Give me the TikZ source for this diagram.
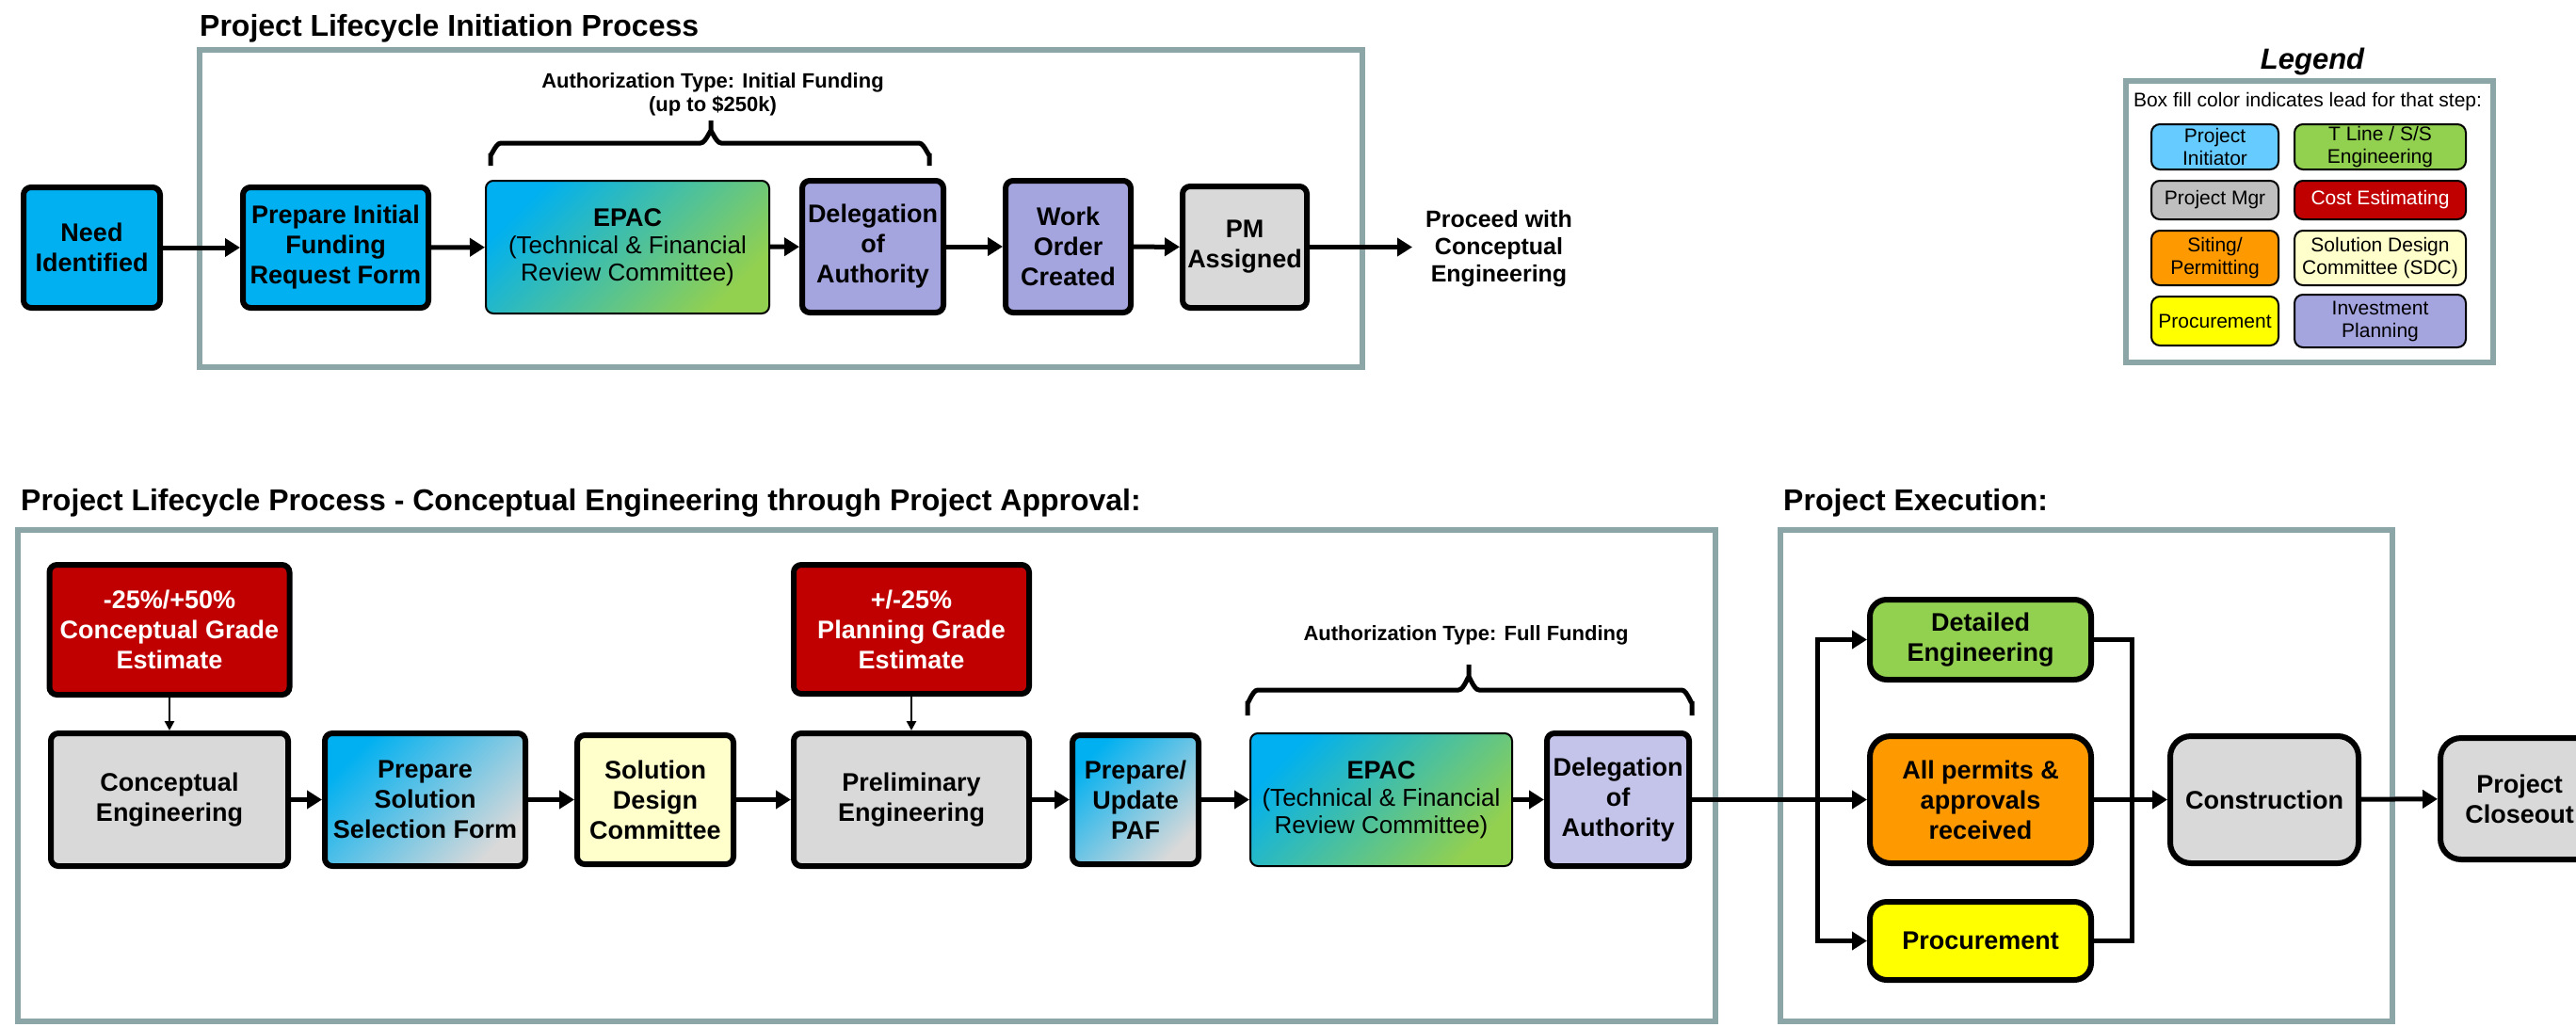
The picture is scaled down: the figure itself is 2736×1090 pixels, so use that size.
\documentclass[tikz,border=0pt]{standalone}
\usepackage{fontspec}
\setmainfont{Liberation Sans}
\usetikzlibrary{arrows.meta}
\definecolor{cblue}{HTML}{00B0F0}
\definecolor{lblue}{HTML}{66CCFF}
\definecolor{lav}{HTML}{A4A4DE}
\definecolor{lavlight}{HTML}{C4C4EA}
\definecolor{cgray}{HTML}{D9D9D9}
\definecolor{lgray}{HTML}{BFBFBF}
\definecolor{cred}{HTML}{C00000}
\definecolor{cgreen}{HTML}{92D050}
\definecolor{corange}{HTML}{FF9900}
\definecolor{cyellow}{HTML}{FFFF00}
\definecolor{lyellow}{HTML}{FFFFCC}
\definecolor{framec}{HTML}{8CA5A7}
\tikzset{
  box/.style={draw=black, line width=6pt, rounded corners=8pt, align=center, inner sep=1pt,
    font=\bfseries\fontsize{27}{32}\selectfont},
  rbox/.style={box, rounded corners=18pt},
  thinbox/.style={draw=black, line width=2pt, rounded corners=8pt, align=center, inner sep=1pt,
    font=\fontsize{26}{29}\selectfont},
  lbox/.style={draw=black, line width=2pt, rounded corners=9pt, align=center, inner sep=1pt,
    font=\fontsize{21}{24}\selectfont},
  frame/.style={draw=framec, line width=6pt},
  arr/.style={line width=5pt, -{Triangle[length=16pt,width=19pt]}},
  thinarr/.style={line width=2.5pt, -{Triangle[length=10pt,width=10pt]}},
  heading/.style={font=\bfseries\fontsize{32}{38}\selectfont, anchor=base west, inner sep=0pt},
  bracepath/.style={line width=5pt},
  authtext/.style={font=\bfseries\fontsize{22}{25}\selectfont, align=center, inner sep=0pt},
  gradblue/.style={top color=cblue, bottom color=cgreen, shading angle=45},
  gradgray/.style={top color=cblue, bottom color=cgray, shading angle=45},
}
\begin{document}
\begin{tikzpicture}[x=1pt,y=-1pt]
\useasboundingbox (0,0) rectangle (2736,1090);

% ---------- top section ----------
\node[heading] (t1) at (212,38) {Project Lifecycle Initiation Process};
\draw[frame] (212,53) rectangle (1447,390);

\node[box, fill=cblue, minimum width=145pt, minimum height=128pt] (need) at (97.5,263) {Need\\Identified};
\node[box, fill=cblue, minimum width=197pt, minimum height=128pt] (pif) at (356.5,263) {Prepare Initial\\Funding\\Request Form};
\node[thinbox, gradblue, minimum width=301pt, minimum height=141pt] (epac1) at (666.5,262.5)
  {{\bfseries\fontsize{27}{29}\selectfont EPAC}\\(Technical \& Financial\\Review Committee)};
\node[box, fill=lav, minimum width=150pt, minimum height=140pt] (del1) at (927,262) {Delegation\\of\\Authority};
\node[box, fill=lav, minimum width=133pt, minimum height=140pt] (wo) at (1134.5,262) {Work\\Order\\Created};
\node[box, fill=cgray, minimum width=132pt, minimum height=129pt] (pm) at (1322,262.5) {PM\\Assigned};
\coordinate (proceedpt) at (1500,262.5);
\node[font=\bfseries\fontsize{25}{29}\selectfont, align=center] (proceed) at (1592,264) {Proceed with\\Conceptual\\Engineering};

\draw[arr] (need) -- (pif);
\draw[arr] (pif) -- (epac1);
\draw[arr] (epac1) -- (del1);
\draw[arr] (del1) -- (wo);
\draw[arr] (wo) -- (pm);
\draw[arr] (pm) -- (proceedpt);

\node[authtext] (auth1) at (757,100) {Authorization Type: Initial Funding\\(up to \$250k)};
\draw[bracepath] (521,176) -- (521,163) to[out=-90,in=180] (532,152) -- (744,152) to[out=0,in=90] (755,141) -- (755,128);
\draw[bracepath] (755,141) to[out=90,in=180] (766,152) -- (976,152) to[out=0,in=-90] (987,163) -- (987,176);

% ---------- legend ----------
\node[font=\bfseries\itshape\fontsize{31}{36}\selectfont] (legt) at (2456,65) {Legend};
\draw[frame] (2258,86) rectangle (2648,385);
\node[font=\fontsize{21}{24}\selectfont] (legtxt) at (2451,108) {Box fill color indicates lead for that step:};
\node[lbox, fill=lblue, minimum width=135pt, minimum height=48pt] (l1) at (2352.5,156) {Project\\Initiator};
\node[lbox, fill=cgreen, minimum width=182pt, minimum height=48pt] (l2) at (2528,156) {T Line / S/S\\Engineering};
\node[lbox, fill=lgray, minimum width=135pt, minimum height=41pt] (l3) at (2352.5,212.5) {Project Mgr};
\node[lbox, fill=cred, text=white, minimum width=182pt, minimum height=41pt] (l4) at (2528,212.5) {Cost Estimating};
\node[lbox, fill=corange, minimum width=135pt, minimum height=58pt] (l5) at (2352.5,274) {Siting/\\Permitting};
\node[lbox, fill=lyellow, minimum width=182pt, minimum height=58pt] (l6) at (2528,274) {Solution Design\\Committee (SDC)};
\node[lbox, fill=cyellow, minimum width=135pt, minimum height=52pt] (l7) at (2352.5,341) {Procurement};
\node[lbox, fill=lav, minimum width=182pt, minimum height=56pt] (l8) at (2528,341) {Investment\\Planning};

% ---------- bottom section ----------
\node[heading] (t2) at (22,542) {Project Lifecycle Process - Conceptual Engineering through Project Approval:};
\draw[frame] (19,563) rectangle (1822,1085);
\node[heading] (t3) at (1894,542) {Project Execution:};
\draw[frame] (1891,563) rectangle (2541,1085);

\node[box, fill=cred, text=white, minimum width=255pt, minimum height=138pt] (est1) at (180,669) {-25\%/+50\%\\Conceptual Grade\\Estimate};
\node[box, fill=cgray, minimum width=252pt, minimum height=141pt] (ce) at (180,849.5) {Conceptual\\Engineering};
\node[box, gradgray, minimum width=213pt, minimum height=141pt] (pssf) at (451.5,849.5) {Prepare\\Solution\\Selection Form};
\node[box, fill=lyellow, minimum width=166pt, minimum height=137pt] (sdc) at (696,849.5) {Solution\\Design\\Committee};
\node[box, fill=cred, text=white, minimum width=250pt, minimum height=137pt] (est2) at (968,668.5) {+/-25\%\\Planning Grade\\Estimate};
\node[box, fill=cgray, minimum width=250pt, minimum height=141pt] (pe) at (968,849.5) {Preliminary\\Engineering};
\node[box, gradgray, minimum width=134pt, minimum height=137pt] (paf) at (1206,849.5) {Prepare/\\Update\\PAF};
\node[thinbox, gradblue, minimum width=278pt, minimum height=141pt] (epac2) at (1467,849.5)
  {{\bfseries\fontsize{27}{29}\selectfont EPAC}\\(Technical \& Financial\\Review Committee)};
\node[box, fill=lavlight, minimum width=151pt, minimum height=141pt] (del2) at (1718.5,849.5) {Delegation\\of\\Authority};

\draw[thinarr] (est1) -- (ce);
\draw[thinarr] (est2) -- (pe);
\draw[arr] (ce) -- (pssf);
\draw[arr] (pssf) -- (sdc);
\draw[arr] (sdc) -- (pe);
\draw[arr] (pe) -- (paf);
\draw[arr] (paf) -- (epac2);
\draw[arr] (epac2) -- (del2);

\node[authtext] (auth2) at (1557,675) {Authorization Type: Full Funding};
\draw[bracepath] (1325,760) -- (1325,745) to[out=-90,in=180] (1336,733) -- (1549,733) to[out=0,in=90] (1560,721) -- (1560,706);
\draw[bracepath] (1560,721) to[out=90,in=180] (1571,733) -- (1786,733) to[out=0,in=-90] (1797,745) -- (1797,760);

% execution
\node[rbox, fill=cgreen, minimum width=235pt, minimum height=85pt] (de) at (2103.5,679.5) {Detailed\\Engineering};
\node[rbox, fill=corange, rounded corners=22pt, minimum width=235pt, minimum height=135pt] (ap) at (2103.5,849.5) {All permits \&\\approvals\\received};
\node[rbox, fill=cyellow, minimum width=235pt, minimum height=83pt] (pr) at (2103.5,999.5) {Procurement};
\node[rbox, fill=cgray, rounded corners=22pt, minimum width=200pt, minimum height=135pt] (con) at (2405,849.5) {Construction};
\node[rbox, fill=cgray, rounded corners=22pt, minimum width=168pt, minimum height=129pt] (close) at (2676,848.5) {Project\\Closeout};

\coordinate (jl) at (1930,849.5);
\coordinate (jr) at (2264,849.5);
\draw[arr] (del2) -- (ap);
\draw[arr] (jl) |- (de);
\draw[arr] (jl) |- (pr);
\draw[line width=5pt] (de.east) -| (jr) |- (pr.east);
\draw[arr] (ap) -- (con);
\draw[arr] (con) -- (close);
\end{tikzpicture}
\end{document}
